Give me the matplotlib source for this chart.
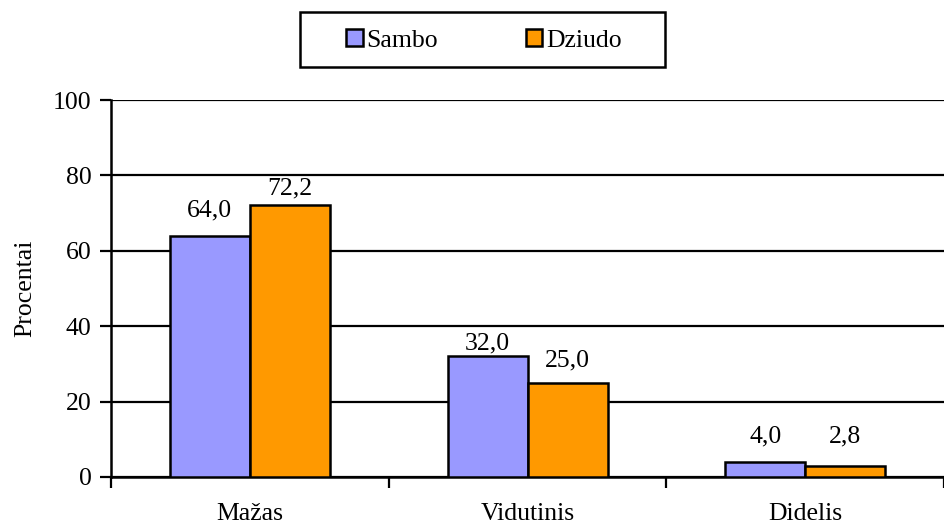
import matplotlib
import numpy as np
from matplotlib.patches import Rectangle

matplotlib.use("Agg")
import matplotlib.pyplot as plt

CATEGORIES = ["Mažas", "Vidutinis", "Didelis"]
SERIES = ["Sambo", "Dziudo"]
SAMBO = [64.0, 32.0, 4.0]
DZIUDO = [72.2, 25.0, 2.8]
COLORS = ["#9999FF", "#FF9900"]
Y_TICKS = [0, 20, 40, 60, 80, 100]
# label baseline gap above each bar, in pixels (Excel places them unevenly)
SAMBO_LABEL_GAP = [19, 7, 19]
DZIUDO_LABEL_GAP = [10, 16, 24]

plt.rcParams["font.family"] = ["Liberation Serif", "DejaVu Serif"]
FS = 18.5

fig = plt.figure(figsize=(9.45, 5.27), dpi=100)
ax = fig.add_axes([0.1175, 0.095, 0.8815, 0.715])

x = np.arange(len(CATEGORIES))
width = 0.288
series = zip([-width / 2, width / 2], [SAMBO, DZIUDO], [SAMBO_LABEL_GAP, DZIUDO_LABEL_GAP],
             COLORS, SERIES)
for offset, values, gaps, color, name in series:
    bars = ax.bar(x + offset, values, width, color=color, edgecolor="black",
                  linewidth=1.8, label=name, zorder=3)
    for bar, value, gap in zip(bars, values, gaps):
        ax.annotate(f"{value:.1f}".replace(".", ","),
                    (bar.get_x() + bar.get_width() / 2, value),
                    xytext=(0, gap * 0.72), textcoords="offset points",
                    ha="center", va="baseline", fontsize=FS)

ax.set_xlim(-0.5, len(CATEGORIES) - 0.5)
ax.set_ylim(0, 100)
ax.set_yticks(Y_TICKS)
ax.yaxis.grid(True, color="black", linewidth=1.6, zorder=0)
ax.set_axisbelow(True)
ax.set_xticks(x, CATEGORIES)
ax.set_xticks(np.arange(-0.5, len(CATEGORIES)), minor=True)
ax.tick_params(axis="x", which="major", length=0, pad=19, labelsize=FS)
ax.tick_params(axis="x", which="minor", length=8, width=1.6, direction="out")
ax.tick_params(axis="y", length=8, width=1.6, direction="out", pad=6, labelsize=FS)
ax.set_ylabel("Procentai", fontsize=FS, labelpad=12)
for side in ["top", "right"]:
    ax.spines[side].set_visible(False)
for side in ["left", "bottom"]:
    ax.spines[side].set_linewidth(1.8)

# legend box drawn separately so it can be wider than the entries
fig.patches.append(Rectangle((0.3175, 0.8729), 0.386, 0.1044, transform=fig.transFigure,
                             facecolor="white", edgecolor="black", linewidth=1.8))
fig.legend(loc="center", bbox_to_anchor=(0.512, 0.923), ncol=2, frameon=False,
           handlelength=0.65, handleheight=0.65, handletextpad=0.15,
           columnspacing=3.4, fontsize=FS)

fig.savefig("out.png", dpi=100)
